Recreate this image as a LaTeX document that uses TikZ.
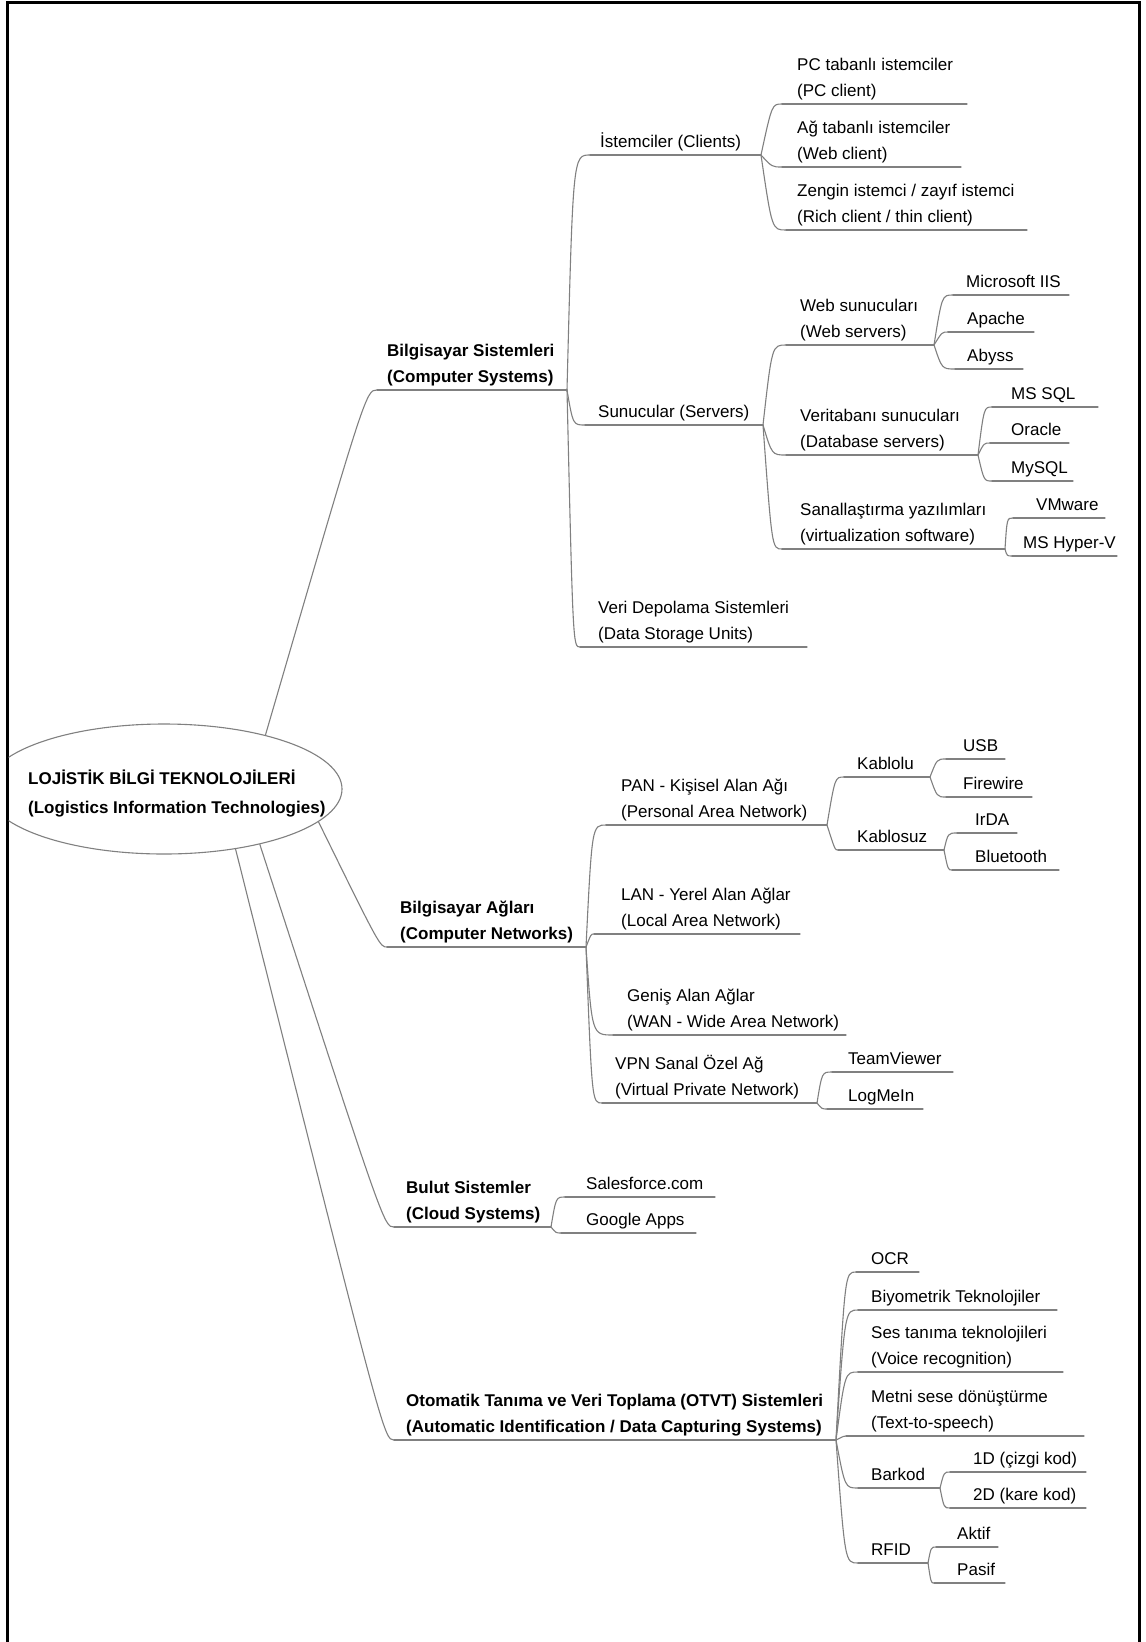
\documentclass[tikz,border=0pt]{standalone}
\usepackage{fontspec}
\setmainfont{Liberation Sans}
\usetikzlibrary{shapes.geometric,calc}

% two-line label whose base anchor sits on the last line
\newcommand\twoline[2]{\begin{tabular}[b]{@{}l@{}}#1\\#2\end{tabular}}

% mind-map topic: label, underline from (us,uy) to (ue,uy)
% #1 style, #2 name, #3 text x, #4 underline y, #5 start x, #6 end x, #7 text
\newcommand\mmnode[7][lbl]{%
  \coordinate (#2-s) at (#5,#4);
  \coordinate (#2-e) at (#6,#4);
  \node[#1] (#2) at (#3,#4-8) {#7};
  \draw[wire] (#2-s) -- (#2-e);}

% curved branch from a parent end to a child start, bending #3 before the child
\newcommand\link[3]{\draw[wire] (#1) .. controls ($(#2)+(-#3,0)$) and ($(#2)+(-#3,0)$) .. (#2);}

\tikzset{
  lbl/.style={anchor=base west, inner sep=0pt, text=black,
    font=\fontsize{17}{25.5}\selectfont},
  bold/.style={lbl, font=\fontsize{17}{26}\selectfont\bfseries},
  wire/.style={draw=black!50, line width=1.1pt, line cap=round},
}

\begin{document}
\begin{tikzpicture}[x=1pt, y=-1pt]
\useasboundingbox (0,0) rectangle (1146,1642);
\fill[white] (0,0) rectangle (1146,1642);

% open frame (no bottom edge)
\draw[line width=3pt] (7,1642) -- (7,2.5) -- (1139,2.5) -- (1139,1642);

% central topic
\begin{scope}
  \clip (8.5,0) rectangle (1146,1642);
  \node[ellipse, draw=black!50, line width=1.1pt, minimum width=356pt,
        minimum height=130pt, inner sep=0pt] (root) at (164,789) {};
\end{scope}
\node[bold, font=\fontsize{17}{29}\selectfont\bfseries] (rootlbl) at (28,813)
  {\twoline{LOJİSTİK BİLGİ TEKNOLOJİLERİ}{(Logistics Information Technologies)}};

% ---------- main branches ----------
\mmnode[bold]{bs}{387}{390}{377}{567}{\twoline{Bilgisayar Sistemleri}{(Computer Systems)}}
\mmnode[bold]{ba}{400}{947}{387}{586}{\twoline{Bilgisayar Ağları}{(Computer Networks)}}
\mmnode[bold]{bulut}{406}{1227}{394}{551}{\twoline{Bulut Sistemler}{(Cloud Systems)}}
\mmnode[bold]{otvt}{406}{1440}{394}{836}{\twoline{Otomatik Tanıma ve Veri Toplama (OTVT) Sistemleri}{(Automatic Identification / Data Capturing Systems)}}

\link{root.28}{bs-s}{11}
\link{root.-12}{ba-s}{7}
\link{root.-30}{bulut-s}{10}
\link{root.-40}{otvt-s}{10}

% ---------- computer systems ----------
\mmnode{cli}{600}{155}{590}{761}{İstemciler (Clients)}
\mmnode{srv}{598}{425}{585}{763}{Sunucular (Servers)}
\mmnode{veri}{598}{647}{580}{807}{\twoline{Veri Depolama Sistemleri}{(Data Storage Units)}}
\link{bs-e}{cli-s}{17}
\link{bs-e}{srv-s}{12}
\link{bs-e}{veri-s}{7}

\mmnode{pc}{797}{104}{782}{967}{\twoline{PC tabanlı istemciler}{(PC client)}}
\mmnode{ag}{797}{167}{782}{961}{\twoline{Ağ tabanlı istemciler}{(Web client)}}
\mmnode{zen}{797}{230}{786}{1027}{\twoline{Zengin istemci / zayıf istemci}{(Rich client / thin client)}}
\link{cli-e}{pc-s}{10}
\link{cli-e}{ag-s}{10}
\link{cli-e}{zen-s}{14}

\mmnode{web}{800}{345}{786}{934}{\twoline{Web sunucuları}{(Web servers)}}
\mmnode{db}{800}{455}{786}{978}{\twoline{Veritabanı sunucuları}{(Database servers)}}
\mmnode{san}{800}{549}{782}{1005}{\twoline{Sanallaştırma yazılımları}{(virtualization software)}}
\link{srv-e}{web-s}{14}
\link{srv-e}{db-s}{14}
\link{srv-e}{san-s}{10}

\mmnode{iis}{966}{295}{953}{1069}{Microsoft IIS}
\mmnode{apa}{967}{332}{948}{1034}{Apache}
\mmnode{aby}{967}{369}{955}{1023}{Abyss}
\link{web-e}{iis-s}{11}
\link{web-e}{apa-s}{6}
\link{web-e}{aby-s}{13}

\mmnode{mss}{1011}{407}{992}{1098}{MS SQL}
\mmnode{ora}{1011}{443}{990}{1069}{Oracle}
\mmnode{mys}{1011}{481}{992}{1073}{MySQL}
\link{db-e}{mss-s}{8}
\link{db-e}{ora-s}{6}
\link{db-e}{mys-s}{8}

\mmnode{vmw}{1036}{518}{1013}{1105}{VMware}
\mmnode{hyv}{1023}{556}{1012}{1117}{MS Hyper-V}
\link{san-e}{vmw-s}{6}
\link{san-e}{hyv-s}{5}

% ---------- computer networks ----------
\mmnode{pan}{621}{825}{606}{827}{\twoline{PAN - Kişisel Alan Ağı}{(Personal Area Network)}}
\mmnode{lan}{621}{934}{594}{800}{\twoline{LAN - Yerel Alan Ağlar}{(Local Area Network)}}
\mmnode{wan}{627}{1035}{613}{846}{\twoline{Geniş Alan Ağlar}{(WAN - Wide Area Network)}}
\mmnode{vpn}{615}{1103}{602}{817}{\twoline{VPN Sanal Özel Ağ}{(Virtual Private Network)}}
\link{ba-e}{pan-s}{14}
\link{ba-e}{lan-s}{3}
\link{ba-e}{wan-s}{21}
\link{ba-e}{vpn-s}{10}

\mmnode{kbl}{857}{777}{844}{930}{Kablolu}
\mmnode{kbz}{857}{850}{838}{944}{Kablosuz}
\link{pan-e}{kbl-s}{9}
\link{pan-e}{kbz-s}{3}

\mmnode{usb}{963}{759}{946}{1005}{USB}
\mmnode{fw}{963}{797}{946}{1032}{Firewire}
\link{kbl-e}{usb-s}{9}
\link{kbl-e}{fw-s}{9}

\mmnode{irda}{975}{833}{957}{1017}{IrDA}
\mmnode{bt}{975}{870}{952}{1059}{Bluetooth}
\link{kbz-e}{irda-s}{9}
\link{kbz-e}{bt-s}{4}

\mmnode{tv}{848}{1072}{832}{953}{TeamViewer}
\mmnode{lmi}{848}{1109}{827}{923}{LogMeIn}
\link{vpn-e}{tv-s}{10}
\link{vpn-e}{lmi-s}{5}

% ---------- cloud systems ----------
\mmnode{sf}{586}{1197}{565}{715}{Salesforce.com}
\mmnode{ga}{586}{1233}{561}{696}{Google Apps}
\link{bulut-e}{sf-s}{9}
\link{bulut-e}{ga-s}{5}

% ---------- automatic identification ----------
\mmnode{ocr}{871}{1272}{856}{919}{OCR}
\mmnode{bio}{871}{1310}{858}{1057}{Biyometrik Teknolojiler}
\mmnode{ses}{871}{1372}{858}{1063}{\twoline{Ses tanıma teknolojileri}{(Voice recognition)}}
\mmnode{tts}{871}{1436}{846}{1084}{\twoline{Metni sese dönüştürme}{(Text-to-speech)}}
\mmnode{bar}{871}{1488}{858}{940}{Barkod}
\mmnode{rfid}{871}{1563}{858}{928}{RFID}
\link{otvt-e}{ocr-s}{11}
\link{otvt-e}{bio-s}{13}
\link{otvt-e}{ses-s}{13}
\link{otvt-e}{tts-s}{2}
\link{otvt-e}{bar-s}{13}
\link{otvt-e}{rfid-s}{13}

\mmnode{d1}{973}{1472}{950}{1086}{1D (çizgi kod)}
\mmnode{d2}{973}{1508}{950}{1086}{2D (kare kod)}
\link{bar-e}{d1-s}{6}
\link{bar-e}{d2-s}{6}

\mmnode{akt}{957}{1547}{936}{998}{Aktif}
\mmnode{pas}{957}{1583}{934}{1005}{Pasif}
\link{rfid-e}{akt-s}{5}
\link{rfid-e}{pas-s}{3}
\end{tikzpicture}
\end{document}
